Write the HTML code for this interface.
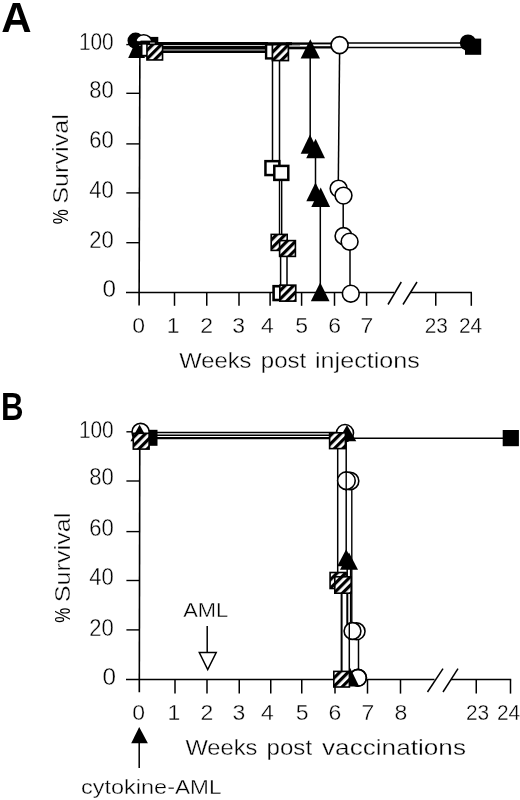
<!DOCTYPE html>
<html lang="en"><head><meta charset="utf-8"><title>Survival curves</title>
<style>
html,body{margin:0;padding:0;background:#fff;}
body{width:520px;height:800px;overflow:hidden;}
svg{display:block;font-family:"Liberation Sans",sans-serif;fill:#000;}
text{stroke:#fff;stroke-width:0.35px;paint-order:fill stroke;}
text.b,tspan.b{stroke:none;}
</style></head><body>
<svg width="520" height="800" viewBox="0 0 520 800">
<defs>
<pattern id="h" patternUnits="userSpaceOnUse" width="6" height="6" patternTransform="rotate(45)">
<rect x="0" y="0" width="6" height="6" fill="#fff"/><rect x="0" y="0" width="3.2" height="6" fill="#000"/>
</pattern>
</defs>
<rect x="0" y="0" width="520" height="800" fill="#fff"/>

<g id="panelA">
<text x="1.2" y="32" font-size="42" text-anchor="start" font-weight="bold" class="b">A</text>
<line x1="139.9" y1="44" x2="139.1" y2="305.5" stroke="#000" stroke-width="1.6"/>
<line x1="126.3" y1="44.6" x2="139.6" y2="44.6" stroke="#000" stroke-width="1.4"/>
<line x1="126.3" y1="93.3" x2="139.6" y2="93.3" stroke="#000" stroke-width="1.4"/>
<line x1="126.3" y1="143.9" x2="139.6" y2="143.9" stroke="#000" stroke-width="1.4"/>
<line x1="126.3" y1="192.9" x2="139.6" y2="192.9" stroke="#000" stroke-width="1.4"/>
<line x1="126.3" y1="242.7" x2="139.6" y2="242.7" stroke="#000" stroke-width="1.4"/>
<line x1="126" y1="292.4" x2="394" y2="292.4" stroke="#000" stroke-width="1.5"/>
<line x1="410" y1="292.4" x2="472" y2="292.4" stroke="#000" stroke-width="1.5"/>
<line x1="174.5" y1="292.4" x2="174.5" y2="305.8" stroke="#000" stroke-width="1.5"/>
<line x1="206.75" y1="292.4" x2="206.75" y2="305.8" stroke="#000" stroke-width="1.5"/>
<line x1="239" y1="292.4" x2="239" y2="305.8" stroke="#000" stroke-width="1.5"/>
<line x1="270.1" y1="292.4" x2="270.1" y2="305.8" stroke="#000" stroke-width="1.5"/>
<line x1="301.6" y1="292.4" x2="301.6" y2="305.8" stroke="#000" stroke-width="1.5"/>
<line x1="334.5" y1="292.4" x2="334.5" y2="305.8" stroke="#000" stroke-width="1.5"/>
<line x1="366.6" y1="292.4" x2="366.6" y2="305.8" stroke="#000" stroke-width="1.5"/>
<line x1="435.75" y1="292.4" x2="435.75" y2="305.8" stroke="#000" stroke-width="1.5"/>
<line x1="471.3" y1="292.4" x2="471.3" y2="305.8" stroke="#000" stroke-width="1.5"/>
<line x1="388" y1="304.5" x2="401.3" y2="282" stroke="#000" stroke-width="1.5"/>
<line x1="403" y1="304.5" x2="417" y2="282" stroke="#000" stroke-width="1.5"/>
<text x="113.7" y="49.6" font-size="23.2" text-anchor="end" textLength="34.8" lengthAdjust="spacingAndGlyphs">100</text>
<text x="113.7" y="97.5" font-size="23.2" text-anchor="end" textLength="24.5" lengthAdjust="spacingAndGlyphs">80</text>
<text x="113.7" y="148.2" font-size="23.2" text-anchor="end" textLength="24.5" lengthAdjust="spacingAndGlyphs">60</text>
<text x="113.7" y="197.7" font-size="23.2" text-anchor="end" textLength="24.5" lengthAdjust="spacingAndGlyphs">40</text>
<text x="113.7" y="248" font-size="23.2" text-anchor="end" textLength="24.5" lengthAdjust="spacingAndGlyphs">20</text>
<text x="116" y="297" font-size="23.2" text-anchor="end" textLength="13.5" lengthAdjust="spacingAndGlyphs">0</text>
<text x="138.7" y="332.8" font-size="22" text-anchor="middle" textLength="12.8" lengthAdjust="spacingAndGlyphs">0</text>
<text x="173.2" y="332.8" font-size="22" text-anchor="middle" textLength="12.8" lengthAdjust="spacingAndGlyphs">1</text>
<text x="206.75" y="332.8" font-size="22" text-anchor="middle" textLength="12.8" lengthAdjust="spacingAndGlyphs">2</text>
<text x="238.75" y="332.8" font-size="22" text-anchor="middle" textLength="12.8" lengthAdjust="spacingAndGlyphs">3</text>
<text x="267.3" y="332.8" font-size="22" text-anchor="middle" textLength="12.8" lengthAdjust="spacingAndGlyphs">4</text>
<text x="301.6" y="332.8" font-size="22" text-anchor="middle" textLength="12.8" lengthAdjust="spacingAndGlyphs">5</text>
<text x="334.75" y="332.8" font-size="22" text-anchor="middle" textLength="12.8" lengthAdjust="spacingAndGlyphs">6</text>
<text x="367" y="332.8" font-size="22" text-anchor="middle" textLength="12.8" lengthAdjust="spacingAndGlyphs">7</text>
<text x="436.25" y="332.8" font-size="22" text-anchor="middle" textLength="23.2" lengthAdjust="spacingAndGlyphs">23</text>
<text x="470.6" y="332.8" font-size="22" text-anchor="middle" textLength="23.2" lengthAdjust="spacingAndGlyphs">24</text>
<text transform="translate(67.7,224.3) rotate(-90)" font-size="22.5"><tspan x="0" textLength="15" lengthAdjust="spacingAndGlyphs" class="b">%</tspan><tspan x="20.6" textLength="89.6" lengthAdjust="spacingAndGlyphs">Survival</tspan></text>
<text x="179.3" y="368" font-size="22.5" text-anchor="start" textLength="72.2" lengthAdjust="spacingAndGlyphs">Weeks</text>
<text x="260.8" y="368" font-size="22.5" text-anchor="start" textLength="45.5" lengthAdjust="spacingAndGlyphs">post</text>
<text x="315" y="368" font-size="22.5" text-anchor="start" textLength="104.8" lengthAdjust="spacingAndGlyphs">injections</text>
<rect x="150" y="42" width="118.00" height="3.20" fill="#000"/>
<rect x="150" y="46" width="118.00" height="3.60" fill="#000"/>
<rect x="150" y="50.4" width="118.00" height="2.60" fill="#000"/>
<rect x="286" y="42.4" width="26.00" height="2.40" fill="#000"/>
<rect x="286" y="46.6" width="26.00" height="2.70" fill="#000"/>
<rect x="286" y="45.4" width="14.00" height="0.80" fill="#777"/>
<rect x="312" y="42.5" width="20.00" height="1.90" fill="#000"/>
<rect x="312" y="46.2" width="20.00" height="2.30" fill="#000"/>
<line x1="345" y1="43.1" x2="468" y2="43.1" stroke="#000" stroke-width="1.5"/>
<line x1="345" y1="47.5" x2="470" y2="47.5" stroke="#000" stroke-width="1.5"/>
<line x1="272.5" y1="55" x2="272.5" y2="162" stroke="#000" stroke-width="1.5"/>
<line x1="279.5" y1="55" x2="279.5" y2="166" stroke="#000" stroke-width="1.5"/>
<line x1="279.5" y1="178" x2="279.5" y2="236" stroke="#000" stroke-width="1.4"/>
<line x1="281.7" y1="178" x2="281.7" y2="236" stroke="#000" stroke-width="1.4"/>
<line x1="280.6" y1="250" x2="280.6" y2="287" stroke="#000" stroke-width="1.5"/>
<line x1="287" y1="255" x2="287" y2="287" stroke="#000" stroke-width="1.5"/>
<line x1="310.2" y1="55" x2="310.2" y2="140" stroke="#000" stroke-width="1.5"/>
<line x1="315.5" y1="150" x2="315.5" y2="190" stroke="#000" stroke-width="1.5"/>
<line x1="320.3" y1="200" x2="320.3" y2="290" stroke="#000" stroke-width="1.5"/>
<line x1="339.6" y1="52" x2="338.3" y2="182" stroke="#000" stroke-width="1.5"/>
<line x1="343.2" y1="200" x2="343.2" y2="230" stroke="#000" stroke-width="1.5"/>
<line x1="350" y1="248" x2="350" y2="287" stroke="#000" stroke-width="1.5"/>
<circle cx="135.6" cy="40.7" r="8.1" fill="#000"/>
<rect x="141.90" y="36.90" width="16.4" height="16.4" fill="#000"/>
<circle cx="143.7" cy="43.2" r="8.50" fill="#fff" stroke="#000" stroke-width="1.6"/>
<rect x="136" y="41.2" width="14.00" height="4.00" fill="#000"/>
<rect x="137" y="46" width="13.00" height="3.80" fill="#000"/>
<polygon points="136.6,39.5 145.00,58.0 128.20,58.0" fill="#000"/>
<rect x="141.50" y="41.60" width="14.20" height="14.20" fill="#fff" stroke="#000" stroke-width="2.0"/>
<rect x="140.5" y="41.2" width="9.50" height="3.40" fill="#000"/>
<rect x="146.95" y="44.35" width="15.60" height="15.60" fill="url(#h)" stroke="#000" stroke-width="1.6"/>
<rect x="266.10" y="44.40" width="14.00" height="14.00" fill="#fff" stroke="#000" stroke-width="2.4"/>
<rect x="272.40" y="44.55" width="16.00" height="16.00" fill="url(#h)" stroke="#000" stroke-width="1.7"/>
<rect x="262" y="42.2" width="30.00" height="2.90" fill="#000"/>
<polygon points="310.3,39.2 320.00,58.400000000000006 300.60,58.400000000000006" fill="#000"/>
<circle cx="339.6" cy="45.1" r="8.50" fill="#fff" stroke="#000" stroke-width="1.6"/>
<circle cx="468" cy="42.6" r="8.2" fill="#000"/>
<rect x="465.00" y="38.60" width="16.2" height="16.2" fill="#000"/>
<rect x="265.45" y="161.15" width="13.90" height="13.90" fill="#fff" stroke="#000" stroke-width="2.5"/>
<rect x="274.30" y="165.90" width="14.00" height="14.00" fill="#fff" stroke="#000" stroke-width="2.5"/>
<polygon points="310,134.5 319.30,153.7 300.70,153.7" fill="#000"/>
<polygon points="315.6,138.8 325.00,158.20000000000002 306.20,158.20000000000002" fill="#000"/>
<polygon points="315.5,182.5 324.70,201.3 306.30,201.3" fill="#000"/>
<polygon points="320.7,187.6 330.10,207.0 311.30,207.0" fill="#000"/>
<circle cx="338.6" cy="188.6" r="8.40" fill="#fff" stroke="#000" stroke-width="1.6"/>
<circle cx="343.5" cy="195.6" r="8.40" fill="#fff" stroke="#000" stroke-width="1.6"/>
<circle cx="343.5" cy="236" r="8.40" fill="#fff" stroke="#000" stroke-width="1.6"/>
<circle cx="349.6" cy="241.7" r="8.40" fill="#fff" stroke="#000" stroke-width="1.6"/>
<rect x="271.20" y="234.40" width="16.00" height="16.00" fill="url(#h)" stroke="#000" stroke-width="1.6"/>
<rect x="279.60" y="240.60" width="15.80" height="15.80" fill="url(#h)" stroke="#000" stroke-width="1.6"/>
<rect x="273.60" y="286.20" width="13.80" height="13.80" fill="#fff" stroke="#000" stroke-width="2.6"/>
<rect x="279.85" y="285.20" width="15.90" height="15.90" fill="url(#h)" stroke="#000" stroke-width="1.7"/>
<polygon points="320.2,282.5 329.60,301.3 310.80,301.3" fill="#000"/>
<circle cx="350.8" cy="293.7" r="8.40" fill="#fff" stroke="#000" stroke-width="1.6"/>
</g>
<g id="panelB">
<text x="1" y="420" font-size="39" text-anchor="start" textLength="22.5" lengthAdjust="spacingAndGlyphs" font-weight="bold" class="b">B</text>
<line x1="139.8" y1="432" x2="139.3" y2="692.3" stroke="#000" stroke-width="1.6"/>
<line x1="126.4" y1="431.8" x2="139.6" y2="431.8" stroke="#000" stroke-width="1.4"/>
<line x1="126.4" y1="481" x2="139.6" y2="481" stroke="#000" stroke-width="1.4"/>
<line x1="126.4" y1="531.6" x2="139.6" y2="531.6" stroke="#000" stroke-width="1.4"/>
<line x1="126.4" y1="580.5" x2="139.6" y2="580.5" stroke="#000" stroke-width="1.4"/>
<line x1="126.4" y1="629.9" x2="139.6" y2="629.9" stroke="#000" stroke-width="1.4"/>
<line x1="126" y1="679.6" x2="434.5" y2="679.6" stroke="#000" stroke-width="1.5"/>
<line x1="451" y1="679.6" x2="511.2" y2="679.6" stroke="#000" stroke-width="1.5"/>
<line x1="175" y1="679.6" x2="175" y2="693.6" stroke="#000" stroke-width="1.5"/>
<line x1="207" y1="679.6" x2="207" y2="693.6" stroke="#000" stroke-width="1.5"/>
<line x1="239.25" y1="679.6" x2="239.25" y2="693.6" stroke="#000" stroke-width="1.5"/>
<line x1="270.75" y1="679.6" x2="270.75" y2="693.6" stroke="#000" stroke-width="1.5"/>
<line x1="301.75" y1="679.6" x2="301.75" y2="693.6" stroke="#000" stroke-width="1.5"/>
<line x1="335" y1="679.6" x2="335" y2="693.6" stroke="#000" stroke-width="1.5"/>
<line x1="367.5" y1="679.6" x2="367.5" y2="693.6" stroke="#000" stroke-width="1.5"/>
<line x1="400.5" y1="679.6" x2="400.5" y2="693.6" stroke="#000" stroke-width="1.5"/>
<line x1="476.25" y1="679.6" x2="476.25" y2="693.6" stroke="#000" stroke-width="1.5"/>
<line x1="510.5" y1="679.6" x2="510.5" y2="693.6" stroke="#000" stroke-width="1.5"/>
<line x1="427.5" y1="692" x2="443" y2="668.7" stroke="#000" stroke-width="1.5"/>
<line x1="443" y1="692" x2="458" y2="668.7" stroke="#000" stroke-width="1.5"/>
<text x="113.7" y="438" font-size="23.2" text-anchor="end" textLength="34.8" lengthAdjust="spacingAndGlyphs">100</text>
<text x="113.7" y="485.1" font-size="23.2" text-anchor="end" textLength="24.5" lengthAdjust="spacingAndGlyphs">80</text>
<text x="113.7" y="536.2" font-size="23.2" text-anchor="end" textLength="24.5" lengthAdjust="spacingAndGlyphs">60</text>
<text x="113.7" y="585" font-size="23.2" text-anchor="end" textLength="24.5" lengthAdjust="spacingAndGlyphs">40</text>
<text x="113.7" y="635.6" font-size="23.2" text-anchor="end" textLength="24.5" lengthAdjust="spacingAndGlyphs">20</text>
<text x="116" y="684.8" font-size="23.2" text-anchor="end" textLength="13.5" lengthAdjust="spacingAndGlyphs">0</text>
<text x="138.7" y="720" font-size="22" text-anchor="middle" textLength="12.8" lengthAdjust="spacingAndGlyphs">0</text>
<text x="174" y="720" font-size="22" text-anchor="middle" textLength="12.8" lengthAdjust="spacingAndGlyphs">1</text>
<text x="207" y="720" font-size="22" text-anchor="middle" textLength="12.8" lengthAdjust="spacingAndGlyphs">2</text>
<text x="239" y="720" font-size="22" text-anchor="middle" textLength="12.8" lengthAdjust="spacingAndGlyphs">3</text>
<text x="267.5" y="720" font-size="22" text-anchor="middle" textLength="12.8" lengthAdjust="spacingAndGlyphs">4</text>
<text x="302.2" y="720" font-size="22" text-anchor="middle" textLength="12.8" lengthAdjust="spacingAndGlyphs">5</text>
<text x="334.8" y="720" font-size="22" text-anchor="middle" textLength="12.8" lengthAdjust="spacingAndGlyphs">6</text>
<text x="368" y="720" font-size="22" text-anchor="middle" textLength="12.8" lengthAdjust="spacingAndGlyphs">7</text>
<text x="401" y="720" font-size="22" text-anchor="middle" textLength="12.8" lengthAdjust="spacingAndGlyphs">8</text>
<text x="477.5" y="720" font-size="22" text-anchor="middle" textLength="23.2" lengthAdjust="spacingAndGlyphs">23</text>
<text x="508.5" y="720" font-size="22" text-anchor="middle" textLength="23.2" lengthAdjust="spacingAndGlyphs">24</text>
<text transform="translate(70.0,622.8) rotate(-90)" font-size="22.5"><tspan x="0" textLength="15" lengthAdjust="spacingAndGlyphs" class="b">%</tspan><tspan x="20.6" textLength="89.6" lengthAdjust="spacingAndGlyphs">Survival</tspan></text>
<text x="185.4" y="755.4" font-size="22.5" text-anchor="start" textLength="72" lengthAdjust="spacingAndGlyphs">Weeks</text>
<text x="266.6" y="755.4" font-size="22.5" text-anchor="start" textLength="45.5" lengthAdjust="spacingAndGlyphs">post</text>
<text x="322" y="755.4" font-size="22.5" text-anchor="start" textLength="144" lengthAdjust="spacingAndGlyphs">vaccinations</text>
<text x="183.2" y="616.8" font-size="21" text-anchor="start" textLength="45" lengthAdjust="spacingAndGlyphs">AML</text>
<line x1="207.2" y1="626" x2="207.2" y2="653" stroke="#000" stroke-width="1.5"/>
<polygon points="199.3,652.6 216.2,652.6 207.7,669.5" fill="#fff" stroke="#000" stroke-width="1.5" stroke-linejoin="miter"/>
<polygon points="139.2,727 147.9,743.2 131.2,743.2" fill="#000"/>
<line x1="139.2" y1="743" x2="139.2" y2="768" stroke="#000" stroke-width="1.5"/>
<text x="81" y="794.4" font-size="21" text-anchor="start" textLength="94" lengthAdjust="spacingAndGlyphs">cytokine-</text>
<text x="175" y="794.4" font-size="21" text-anchor="start" textLength="46.5" lengthAdjust="spacingAndGlyphs">AML</text>
<line x1="150" y1="432.4" x2="336" y2="432.4" stroke="#000" stroke-width="1.5"/>
<line x1="150" y1="435.2" x2="332" y2="435.2" stroke="#000" stroke-width="1.6"/>
<line x1="150" y1="438.2" x2="332" y2="438.2" stroke="#000" stroke-width="2.2"/>
<line x1="350" y1="438.3" x2="505" y2="438.3" stroke="#000" stroke-width="1.4"/>
<line x1="337.7" y1="447" x2="337.7" y2="574" stroke="#000" stroke-width="1.5"/>
<line x1="346.2" y1="440" x2="346.2" y2="552" stroke="#000" stroke-width="1.5"/>
<line x1="351.8" y1="488" x2="351.8" y2="625" stroke="#000" stroke-width="1.4"/>
<line x1="347.2" y1="566" x2="347.2" y2="580" stroke="#000" stroke-width="1.5"/>
<line x1="350.6" y1="566" x2="350.6" y2="625" stroke="#000" stroke-width="1.4"/>
<line x1="341.6" y1="590" x2="341.6" y2="672" stroke="#000" stroke-width="2.0"/>
<line x1="347.3" y1="590" x2="347.3" y2="625" stroke="#000" stroke-width="2.0"/>
<line x1="349.3" y1="625" x2="349.3" y2="672" stroke="#000" stroke-width="1.5"/>
<line x1="358.5" y1="638" x2="358.5" y2="670" stroke="#000" stroke-width="1.5"/>
<rect x="141.50" y="429.80" width="16" height="16" fill="#000"/>
<circle cx="140.6" cy="432" r="8.60" fill="#fff" stroke="#000" stroke-width="1.6"/>
<polygon points="139.6,424.8 148.80,441.2 130.40,441.2" fill="#000"/>
<rect x="133.30" y="433.30" width="15.80" height="15.80" fill="url(#h)" stroke="#000" stroke-width="1.6"/>
<circle cx="345" cy="433" r="8.50" fill="#fff" stroke="#000" stroke-width="1.6"/>
<polygon points="347,425 356.30,441.2 337.70,441.2" fill="#000"/>
<rect x="329.60" y="432.80" width="15.80" height="15.80" fill="url(#h)" stroke="#000" stroke-width="1.6"/>
<circle cx="350.2" cy="481" r="8.60" fill="#fff" stroke="#000" stroke-width="1.6"/>
<circle cx="346.4" cy="480.7" r="8.80" fill="#fff" stroke="#000" stroke-width="1.6"/>
<line x1="346.2" y1="471" x2="346.2" y2="491" stroke="#000" stroke-width="1.4"/>
<polygon points="346.2,549.2 355.20,566.2 337.20,566.2" fill="#000"/>
<polygon points="349,552.5 358.00,569.8 340.00,569.8" fill="#000"/>
<rect x="330.10" y="572.50" width="16.00" height="16.00" fill="url(#h)" stroke="#000" stroke-width="1.6"/>
<rect x="334.80" y="576.80" width="16.40" height="16.40" fill="url(#h)" stroke="#000" stroke-width="1.6"/>
<circle cx="356.6" cy="631.3" r="8.40" fill="#fff" stroke="#000" stroke-width="1.6"/>
<circle cx="352.5" cy="631" r="8.40" fill="#fff" stroke="#000" stroke-width="1.6"/>
<line x1="349.3" y1="622.5" x2="349.3" y2="640" stroke="#000" stroke-width="1.4"/>
<circle cx="358" cy="677.8" r="8.40" fill="#fff" stroke="#000" stroke-width="1.6"/>
<polygon points="350.2,668 359.20,686.6 341.20,686.6" fill="#000"/>
<circle cx="358" cy="677.8" r="8.40" fill="none" stroke="#000" stroke-width="1.6"/>
<rect x="333.80" y="671.40" width="15.60" height="15.60" fill="url(#h)" stroke="#000" stroke-width="1.6"/>
<rect x="502.70" y="430.00" width="16.2" height="16.2" fill="#000"/>
</g>
</svg>
</body></html>
